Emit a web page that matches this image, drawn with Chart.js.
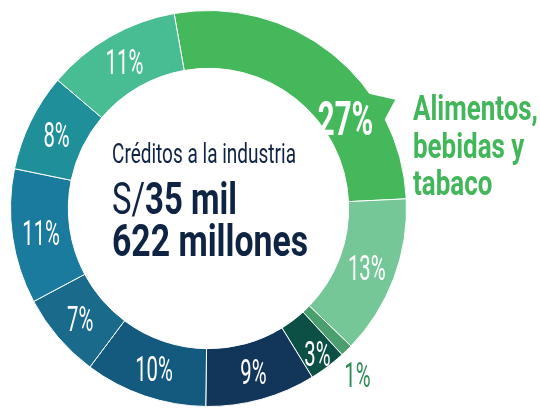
<!DOCTYPE html>
<html>
<head>
<meta charset="utf-8">
<script src="https://cdn.jsdelivr.net/npm/chart.js@4.4.0/dist/chart.umd.min.js"></script>
<style>
  html, body { margin: 0; padding: 0; background: #fff; }
  #wrap { width: 540px; height: 411px; }
</style>
</head>
<body>
<div id="wrap"><canvas id="myChart" width="540" height="411"></canvas></div>
<script>
let categories = ['Alimentos, bebidas y tabaco', 'Sector 2', 'Sector 3', 'Sector 4', 'Sector 5',
                  'Sector 6', 'Sector 7', 'Sector 8', 'Sector 9', 'Sector 10'];
let values = [27, 13, 1, 3, 9, 10, 7, 11, 8, 11];
let colors = ['#45b85c', '#75c797', '#4b9e6e', '#0c4f45', '#12365a',
              '#145a7e', '#1a6a8c', '#1a7b9e', '#1f8f9a', '#48bd93'];
let titleLines = ['Créditos a la industria', 'S/', '35 mil', '622 millones'];
let calloutLines = ['Alimentos,', 'bebidas y', 'tabaco'];

const navy = '#0f2343';
const green = '#42b65a';

// draws text squeezed horizontally (the original uses a condensed face)
function drawNarrow(ctx, text, x, y, font, color, scaleX, align) {
    ctx.save();
    ctx.font = font;
    ctx.fillStyle = color;
    ctx.textBaseline = 'alphabetic';
    ctx.textAlign = 'left';
    let w = ctx.measureText(text).width * scaleX;
    let left = align === 'center' ? x - w / 2 : x;
    ctx.translate(left, y);
    ctx.scale(scaleX, 1);
    ctx.fillText(text, 0, 0);
    ctx.restore();
    return w;
}

function fitScale(ctx, text, font, width) {
    ctx.save();
    ctx.font = font;
    let s = width / ctx.measureText(text).width;
    ctx.restore();
    return s;
}

const ringLabels = {
    id: 'ringLabels',
    afterDatasetsDraw(chart) {
        let ctx = chart.ctx;
        let arcs = chart.getDatasetMeta(0).data;

        // little callout pointer on the big slice
        let big = arcs[0].getProps(['x', 'y', 'startAngle', 'endAngle', 'outerRadius'], true);
        let span = big.endAngle - big.startAngle;
        let a1 = big.startAngle + span * 0.655;
        let at = big.startAngle + span * 0.718;
        let a2 = big.startAngle + span * 0.758;
        let R = big.outerRadius;
        ctx.save();
        ctx.fillStyle = colors[0];
        ctx.beginPath();
        ctx.moveTo(big.x + Math.cos(a1) * (R - 3), big.y + Math.sin(a1) * (R - 3));
        ctx.lineTo(big.x + Math.cos(at) * (R + 18), big.y + Math.sin(at) * (R + 18));
        ctx.lineTo(big.x + Math.cos(a2) * (R - 3), big.y + Math.sin(a2) * (R - 3));
        ctx.closePath();
        ctx.fill();
        ctx.restore();

        arcs.forEach((arc, i) => {
            let p = arc.getProps(['x', 'y', 'startAngle', 'endAngle', 'innerRadius', 'outerRadius'], true);
            let mid = (p.startAngle + p.endAngle) / 2;
            let r = (p.innerRadius + p.outerRadius) / 2;
            let text = values[i] + '%';
            let size = 35;
            let font = '400 ' + size + 'px Roboto';
            let color = '#ffffff';
            let sx = 0.58;
            if (i === 0) {
                mid = p.startAngle + (p.endAngle - p.startAngle) * 0.685;
                r = p.innerRadius + 24;
                size = 49;
                font = 'bold ' + size + 'px Roboto';
                sx = 0.6;
            } else if (i === 2) {
                mid += 0.04;
                r = p.outerRadius + 25;
                color = '#2b8c55';
            } else if (i === 3) {
                r += 12;
            }
            let cx = p.x + Math.cos(mid) * r;
            let cy = p.y + Math.sin(mid) * r;
            drawNarrow(ctx, text, cx, cy + size * 0.355, font, color, sx, 'center');
        });

        // centre text
        let f1 = '400 28px Roboto';
        drawNarrow(ctx, titleLines[0], 112, 163, f1, navy, fitScale(ctx, titleLines[0], f1, 184), 'left');

        let fReg = '400 45px Roboto';
        let fBold = 'bold 45px Roboto';
        ctx.save();
        ctx.font = fReg;
        let wS = ctx.measureText(titleLines[1]).width;
        ctx.font = fBold;
        let wN = ctx.measureText(titleLines[2]).width;
        ctx.restore();
        let s2 = 125 / (wS + wN);
        let w = drawNarrow(ctx, titleLines[1], 112, 214, fReg, navy, s2, 'left');
        drawNarrow(ctx, titleLines[2], 112 + w, 214, fBold, navy, s2, 'left');

        drawNarrow(ctx, titleLines[3], 112, 256, fBold, navy, fitScale(ctx, titleLines[3], fBold, 196), 'left');

        // category callout
        let fc = 'bold 35px Roboto';
        let sc = fitScale(ctx, calloutLines[0], fc, 125);
        calloutLines.forEach((line, k) => {
            drawNarrow(ctx, line, 413, 120 + k * 37.5, fc, green, sc, 'left');
        });
    }
};

let ctx = document.getElementById('myChart').getContext('2d');

let myChart = new Chart(ctx, {
    type: 'doughnut',
    data: {
        labels: categories,
        datasets: [{
            data: values,
            backgroundColor: colors,
            borderColor: '#ffffff',
            borderWidth: 1
        }]
    },
    options: {
        responsive: false,
        animation: false,
        events: [],
        rotation: -10,
        cutout: '70.8%',
        layout: {
            padding: { left: 10, right: 133, top: 10, bottom: 4 }
        },
        plugins: {
            legend: { display: false },
            tooltip: { enabled: false }
        }
    },
    plugins: [ringLabels]
});
</script>
</body>
</html>
